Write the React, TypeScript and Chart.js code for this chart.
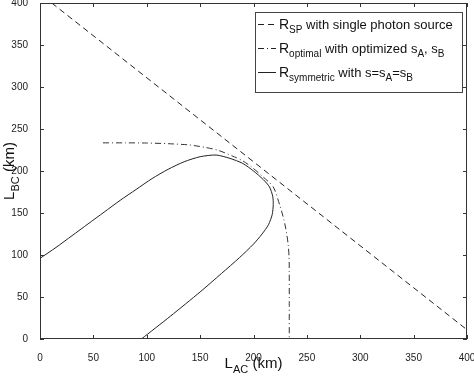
import React, { useEffect, useRef } from "react";
import { Chart, registerables } from "chart.js";

Chart.register(...registerables);

const spX = [11, 400];
const spY = [400, 11];

const optX = [59, 80, 100, 120, 140, 155, 166, 180, 190, 198, 208, 218.5, 225, 228.5, 231, 232.5, 233.3, 233.5, 233.5, 233.5];
const optY = [233.5, 233.5, 233.3, 232.5, 231, 228, 225, 218, 212, 205, 194, 181, 157.5, 142, 126, 112, 98, 80, 40, 0];

const symX = [0, 15, 30, 45, 60, 75, 90, 105, 120, 135, 150, 165, 178, 190, 200, 209, 215, 218, 218.5, 217.5, 214, 208, 200, 187, 170, 150, 122, 95];
const symY = [96, 109, 123, 137, 151, 165, 178, 191, 202, 211, 217, 219, 215, 209, 200, 190, 181, 170, 160, 148, 136, 125, 113, 97, 78, 56, 27, 0];

const tickValues = [0, 50, 100, 150, 200, 250, 300, 350, 400];

const legendRows = [
  { main: "R", sub: "SP", rest: [" with single photon source"], dash: [6, 4] },
  { main: "R", sub: "optimal", rest: [" with optimized s", "A", ", s", "B"], dash: [6, 3, 1, 3] },
  { main: "R", sub: "symmetric", rest: [" with s=s", "A", "=s", "B"], dash: [] as number[] },
];

const FONT = "'Liberation Sans', Arial, Helvetica, sans-serif";

const toPts = (xs: number[], ys: number[]) => xs.map((x, i) => ({ x, y: ys[i] }));

const overlay = {
  id: "overlay",
  afterDraw(chart: any) {
    const ctx = chart.ctx as CanvasRenderingContext2D;
    const { left, right, top, bottom } = chart.chartArea;
    const xs = chart.scales.x;
    const ys = chart.scales.y;
    ctx.save();
    ctx.strokeStyle = "#333";
    ctx.lineWidth = 1;
    ctx.setLineDash([]);
    ctx.strokeRect(left + 0.5, top + 0.5, right - left - 1, bottom - top - 1);
    ctx.beginPath();
    for (const v of tickValues) {
      const px = Math.round(xs.getPixelForValue(v)) + 0.5;
      ctx.moveTo(px, bottom);
      ctx.lineTo(px, bottom - 4);
      ctx.moveTo(px, top);
      ctx.lineTo(px, top + 4);
      const py = Math.round(ys.getPixelForValue(v)) + 0.5;
      ctx.moveTo(left, py);
      ctx.lineTo(left + 4, py);
      ctx.moveTo(right, py);
      ctx.lineTo(right - 4, py);
    }
    ctx.stroke();

    // legend
    const lx = 255, ly = 12, lw = 207, lh = 80;
    ctx.fillStyle = "#fff";
    ctx.fillRect(lx, ly, lw, lh);
    ctx.strokeStyle = "#444";
    ctx.strokeRect(lx + 0.5, ly + 0.5, lw, lh);
    const rowY = [24, 48, 72];
    legendRows.forEach((row, i) => {
      const y = rowY[i];
      ctx.strokeStyle = "#222";
      ctx.setLineDash(row.dash);
      ctx.beginPath();
      ctx.moveTo(258, y + 0.5);
      ctx.lineTo(276, y + 0.5);
      ctx.stroke();
      ctx.setLineDash([]);
      ctx.fillStyle = "#111";
      ctx.textBaseline = "alphabetic";
      ctx.textAlign = "left";
      let x = 279;
      ctx.font = `14px ${FONT}`;
      ctx.fillText(row.main, x, y + 5);
      x += ctx.measureText(row.main).width;
      ctx.font = `10px ${FONT}`;
      ctx.fillText(row.sub, x, y + 9);
      x += ctx.measureText(row.sub).width;
      row.rest.forEach((t, j) => {
        if (j % 2 === 0) {
          ctx.font = `13px ${FONT}`;
          ctx.fillText(t, x, y + 5);
        } else {
          ctx.font = `10px ${FONT}`;
          ctx.fillText(t, x, y + 9);
        }
        x += ctx.measureText(t).width;
      });
    });

    const drawTitle = (cx: number, cy: number, rot: number, sub: string) => {
      ctx.save();
      ctx.translate(cx, cy);
      ctx.rotate(rot);
      ctx.fillStyle = "#111";
      ctx.font = `15px ${FONT}`;
      const wL = ctx.measureText("L").width;
      ctx.font = `11px ${FONT}`;
      const wS = ctx.measureText(sub).width;
      ctx.font = `15px ${FONT}`;
      const wK = ctx.measureText(" (km)").width;
      let x = -(wL + wS + wK) / 2;
      ctx.textAlign = "left";
      ctx.textBaseline = "alphabetic";
      ctx.fillText("L", x, 5);
      x += wL;
      ctx.font = `11px ${FONT}`;
      ctx.fillText(sub, x, 10);
      x += wS;
      ctx.font = `15px ${FONT}`;
      ctx.fillText(" (km)", x, 5);
      ctx.restore();
    };
    drawTitle((left + right) / 2, 363, 0, "AC");
    drawTitle(9, (top + bottom) / 2, -Math.PI / 2, "BC");
    ctx.restore();
  },
};

export default function App() {
  const ref = useRef<HTMLCanvasElement>(null);
  useEffect(() => {
    document.body.style.margin = "0";
    const lineStyle = { borderColor: "#222", borderWidth: 1, pointRadius: 0, showLine: true, fill: false, tension: 0.25 };
    const chart = new Chart(ref.current!, {
      type: "scatter",
      data: {
        datasets: [
          { ...lineStyle, label: "SP", data: toPts(spX, spY), borderDash: [6, 4], tension: 0 },
          { ...lineStyle, label: "optimal", data: toPts(optX, optY), borderDash: [6, 3, 1, 3], borderColor: "#333" },
          { ...lineStyle, label: "symmetric", data: toPts(symX, symY) },
        ],
      },
      options: {
        animation: false,
        responsive: false,
        maintainAspectRatio: false,
        layout: { padding: { top: 3, right: 7, left: 0, bottom: 0 } },
        plugins: { legend: { display: false }, tooltip: { enabled: false } },
        scales: {
          x: {
            type: "linear",
            min: 0,
            max: 400,
            grid: { display: false },
            border: { display: false },
            ticks: { stepSize: 50, padding: 5, color: "#222", font: { size: 10, family: FONT }, maxRotation: 0 },
            afterFit: (s: any) => {
              s.height = 38;
              s.paddingLeft = 0;
              s.paddingRight = 0;
            },
          },
          y: {
            type: "linear",
            min: 0,
            max: 400,
            grid: { display: false },
            border: { display: false },
            ticks: { stepSize: 50, padding: 4, color: "#222", font: { size: 10, family: FONT } },
            afterFit: (s: any) => {
              s.width = 40;
              s.paddingTop = 0;
              s.paddingBottom = 0;
            },
          },
        },
      },
      plugins: [overlay],
    });
    return () => chart.destroy();
  }, []);
  return (
    <div style={{ width: 474, height: 377 }}>
      <canvas ref={ref} width={474} height={377} />
    </div>
  );
}
